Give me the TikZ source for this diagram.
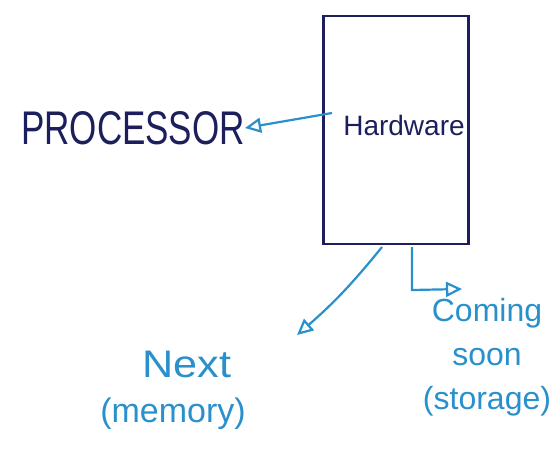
\documentclass[tikz,border=0pt]{standalone}
\usepackage{fontspec}
\setmainfont{Liberation Sans}
\usetikzlibrary{arrows.meta,calc}
\definecolor{ink}{HTML}{1C1F5C}
\definecolor{pen}{HTML}{2A90CC}
\tikzset{
  x=1pt,y=-1pt,
  darktext/.style={text=ink,inner sep=0pt},
  bluetext/.style={text=pen,inner sep=0pt,align=center,font=\fontsize{32}{44}\selectfont},
  bluearrow/.style={draw=pen,line width=2.2pt,-{Triangle[open,length=16pt,width=15pt,line width=2.2pt]}},
  hwbox/.style={draw=ink,line width=2.5pt,minimum width=145pt,minimum height=228pt,inner sep=0pt}
}
\begin{document}
\begin{tikzpicture}
\useasboundingbox (0,0) rectangle (556,450);
\node[hwbox] (hw) at (396,130) {};
\node[darktext,font=\fontsize{28}{32}\selectfont] (hwlabel) at (404,125) {Hardware};
\node[darktext] (proc) at (133,128) {\scalebox{1}[1.35]{\fontsize{35}{40}\selectfont PROCESSOR}};
\node[bluetext] (next) at (187,364) {\scalebox{1.35}[1.2]{Next}};
\node[bluetext,font=\fontsize{34}{40}\selectfont] (mem) at (173,414) {(memory)};
\node[bluetext] (store) at (487,357) {Coming\\soon\\(storage)};
\coordinate (p0) at (332,113);
\coordinate (n0) at (382,247);
\coordinate (n1) at (297,335);
\coordinate (s0) at (412,247);
\coordinate (s1) at (412,290);
\coordinate (s2) at (462,289);
\draw[bluearrow] (p0) -- (proc.east);
\draw[bluearrow] (n0) to[bend left=5] (n1);
\draw[bluearrow] (s0) -- (s1) -- (s2);
\end{tikzpicture}
\end{document}
